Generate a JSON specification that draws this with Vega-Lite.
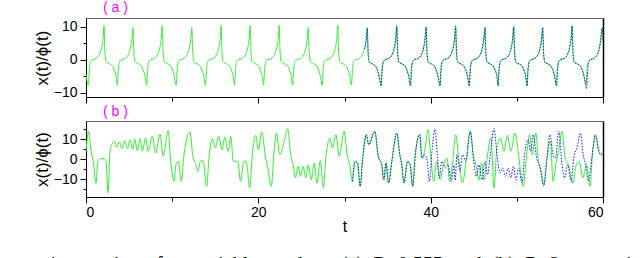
{
"$schema": "https://vega.github.io/schema/vega-lite/v6.json",
"background": "white",
"padding": {"left": 2, "top": 0, "right": 0, "bottom": -10},
"config": {
 "view": {"stroke": "#666", "strokeWidth": 1},
 "axis": {"domainColor": "#000", "domainWidth": 1, "tickColor": "#000", "tickWidth": 1, "labelFont": "Liberation Sans", "labelFontSize": 14, "labelColor": "#000", "titleFont": "Liberation Sans", "titleFontSize": 17, "titleFontWeight": "normal", "titleColor": "#000", "grid": false, "labelPadding": 3, "titlePadding": 2},
 "concat": {"spacing": 0}
},
"title": {"text": "s are time\u00a0\u00a0series\u00a0\u00a0of\u00a0\u00a0\u00a0\u00a0\u00a0\u00a0variable\u00a0\u00a0mode\u00a0\u00a0at (a)\u00a0\u00a0R=0.555\u00a0\u00a0and\u00a0\u00a0(b)\u00a0\u00a0R=2\u00a0\u00a0respectively", "orient": "bottom", "anchor": "start", "frame": "bounds", "dx": -30, "offset": 20, "font": "Liberation Serif", "fontSize": 20, "fontWeight": "normal", "color": "#000"},
"datasets": {
"ag": [{"t":0,"v":-4.5},
{"t":0.28,"v":-7.7},{"t":0.38,"v":-3.5},{"t":0.53,"v":-0.5},{"t":0.73,"v":0},{"t":1.19,"v":0.4},{"t":1.54,"v":1.5},{"t":1.79,"v":3.5},{"t":1.98,"v":6.5},{"t":2.09,"v":10.4},{"t":2.19,"v":2.5},{"t":2.34,"v":-0.6},{"t":2.69,"v":-1.2},{"t":2.99,"v":-1.6},{"t":3.24,"v":-2.8},{"t":3.49,"v":-5},
{"t":3.64,"v":-7.7},{"t":3.74,"v":-3.5},{"t":3.89,"v":-0.5},{"t":4.09,"v":0},{"t":4.55,"v":0.4},{"t":4.9,"v":1.5},{"t":5.15,"v":3.5},{"t":5.34,"v":6.5},{"t":5.45,"v":9.8},{"t":5.55,"v":2.5},{"t":5.7,"v":-0.6},{"t":6.05,"v":-1.2},{"t":6.35,"v":-1.6},{"t":6.6,"v":-2.8},{"t":6.85,"v":-5},
{"t":7.04,"v":-7.7},{"t":7.14,"v":-3.5},{"t":7.29,"v":-0.5},{"t":7.49,"v":0},{"t":7.95,"v":0.4},{"t":8.3,"v":1.5},{"t":8.55,"v":3.5},{"t":8.74,"v":6.5},{"t":8.85,"v":10.4},{"t":8.95,"v":2.5},{"t":9.1,"v":-0.6},{"t":9.45,"v":-1.2},{"t":9.75,"v":-1.6},{"t":10.0,"v":-2.8},{"t":10.25,"v":-5},
{"t":10.47,"v":-7.7},{"t":10.57,"v":-3.5},{"t":10.72,"v":-0.5},{"t":10.92,"v":0},{"t":11.38,"v":0.4},{"t":11.73,"v":1.5},{"t":11.98,"v":3.5},{"t":12.17,"v":6.5},{"t":12.28,"v":9.8},{"t":12.38,"v":2.5},{"t":12.53,"v":-0.6},{"t":12.88,"v":-1.2},{"t":13.18,"v":-1.6},{"t":13.43,"v":-2.8},{"t":13.68,"v":-5},
{"t":13.87,"v":-7.7},{"t":13.97,"v":-3.5},{"t":14.12,"v":-0.5},{"t":14.32,"v":0},{"t":14.78,"v":0.4},{"t":15.13,"v":1.5},{"t":15.38,"v":3.5},{"t":15.57,"v":6.5},{"t":15.68,"v":10.4},{"t":15.78,"v":2.5},{"t":15.93,"v":-0.6},{"t":16.28,"v":-1.2},{"t":16.58,"v":-1.6},{"t":16.83,"v":-2.8},{"t":17.08,"v":-5},
{"t":17.24,"v":-7.7},{"t":17.34,"v":-3.5},{"t":17.49,"v":-0.5},{"t":17.69,"v":0},{"t":18.15,"v":0.4},{"t":18.5,"v":1.5},{"t":18.75,"v":3.5},{"t":18.94,"v":6.5},{"t":19.05,"v":10.4},{"t":19.15,"v":2.5},{"t":19.3,"v":-0.6},{"t":19.65,"v":-1.2},{"t":19.95,"v":-1.6},{"t":20.2,"v":-2.8},{"t":20.45,"v":-5},
{"t":20.61,"v":-7.7},{"t":20.71,"v":-3.5},{"t":20.86,"v":-0.5},{"t":21.06,"v":0},{"t":21.52,"v":0.4},{"t":21.87,"v":1.5},{"t":22.12,"v":3.5},{"t":22.31,"v":6.5},{"t":22.42,"v":10.4},{"t":22.52,"v":2.5},{"t":22.67,"v":-0.6},{"t":23.02,"v":-1.2},{"t":23.32,"v":-1.6},{"t":23.57,"v":-2.8},{"t":23.82,"v":-5},
{"t":23.99,"v":-7.7},{"t":24.09,"v":-3.5},{"t":24.24,"v":-0.5},{"t":24.44,"v":0},{"t":24.9,"v":0.4},{"t":25.25,"v":1.5},{"t":25.5,"v":3.5},{"t":25.69,"v":6.5},{"t":25.8,"v":9.8},{"t":25.9,"v":2.5},{"t":26.05,"v":-0.6},{"t":26.4,"v":-1.2},{"t":26.7,"v":-1.6},{"t":26.95,"v":-2.8},{"t":27.2,"v":-5},
{"t":27.41,"v":-7.7},{"t":27.51,"v":-3.5},{"t":27.66,"v":-0.5},{"t":27.86,"v":0},{"t":28.32,"v":0.4},{"t":28.67,"v":1.5},{"t":28.92,"v":3.5},{"t":29.11,"v":6.5},{"t":29.22,"v":10.4},{"t":29.32,"v":2.5},{"t":29.47,"v":-0.6},{"t":29.82,"v":-1.2},{"t":30.12,"v":-1.6},{"t":30.37,"v":-2.8},{"t":30.62,"v":-5},
{"t":30.81,"v":-7.7},{"t":30.91,"v":-3.5},{"t":31.06,"v":-0.5},{"t":31.26,"v":0},{"t":31.72,"v":0.4},{"t":32.07,"v":1.5},{"t":32.32,"v":3.5},{"t":32.51,"v":6.5},{"t":32.62,"v":9.8},{"t":32.72,"v":2.5},{"t":32.87,"v":-0.6},{"t":33.22,"v":-1.2},{"t":33.52,"v":-1.6},{"t":33.77,"v":-2.8},{"t":34.02,"v":-5},
{"t":34.24,"v":-7.7},{"t":34.34,"v":-3.5},{"t":34.49,"v":-0.5},{"t":34.69,"v":0},{"t":35.15,"v":0.4},{"t":35.5,"v":1.5},{"t":35.75,"v":3.5},{"t":35.94,"v":6.5},{"t":36.05,"v":10.4},{"t":36.15,"v":2.5},{"t":36.3,"v":-0.6},{"t":36.65,"v":-1.2},{"t":36.95,"v":-1.6},{"t":37.2,"v":-2.8},{"t":37.45,"v":-5},
{"t":37.64,"v":-7.7},{"t":37.74,"v":-3.5},{"t":37.89,"v":-0.5},{"t":38.09,"v":0},{"t":38.55,"v":0.4},{"t":38.9,"v":1.5},{"t":39.15,"v":3.5},{"t":39.34,"v":6.5},{"t":39.45,"v":9.8},{"t":39.55,"v":2.5},{"t":39.7,"v":-0.6},{"t":40.05,"v":-1.2},{"t":40.35,"v":-1.6},{"t":40.6,"v":-2.8},{"t":40.85,"v":-5},
{"t":41.07,"v":-7.7},{"t":41.17,"v":-3.5},{"t":41.32,"v":-0.5},{"t":41.52,"v":0},{"t":41.98,"v":0.4},{"t":42.33,"v":1.5},{"t":42.58,"v":3.5},{"t":42.77,"v":6.5},{"t":42.88,"v":10.4},{"t":42.98,"v":2.5},{"t":43.13,"v":-0.6},{"t":43.48,"v":-1.2},{"t":43.78,"v":-1.6},{"t":44.03,"v":-2.8},{"t":44.28,"v":-5},
{"t":44.47,"v":-7.7},{"t":44.57,"v":-3.5},{"t":44.72,"v":-0.5},{"t":44.92,"v":0},{"t":45.38,"v":0.4},{"t":45.73,"v":1.5},{"t":45.98,"v":3.5},{"t":46.17,"v":6.5},{"t":46.28,"v":9.8},{"t":46.38,"v":2.5},{"t":46.53,"v":-0.6},{"t":46.88,"v":-1.2},{"t":47.18,"v":-1.6},{"t":47.43,"v":-2.8},{"t":47.68,"v":-5},
{"t":47.81,"v":-7.7},{"t":47.91,"v":-3.5},{"t":48.06,"v":-0.5},{"t":48.26,"v":0},{"t":48.72,"v":0.4},{"t":49.07,"v":1.5},{"t":49.32,"v":3.5},{"t":49.51,"v":6.5},{"t":49.62,"v":10.2},{"t":49.72,"v":2.5},{"t":49.87,"v":-0.6},{"t":50.22,"v":-1.2},{"t":50.52,"v":-1.6},{"t":50.77,"v":-2.8},{"t":51.02,"v":-5},
{"t":51.17,"v":-7.7},{"t":51.27,"v":-3.5},{"t":51.42,"v":-0.5},{"t":51.62,"v":0},{"t":52.08,"v":0.4},{"t":52.43,"v":1.5},{"t":52.68,"v":3.5},{"t":52.87,"v":6.5},{"t":52.98,"v":9.8},{"t":53.08,"v":2.5},{"t":53.23,"v":-0.6},{"t":53.58,"v":-1.2},{"t":53.88,"v":-1.6},{"t":54.13,"v":-2.8},{"t":54.38,"v":-5},
{"t":54.59,"v":-7.7},{"t":54.69,"v":-3.5},{"t":54.84,"v":-0.5},{"t":55.04,"v":0},{"t":55.5,"v":0.4},{"t":55.85,"v":1.5},{"t":56.1,"v":3.5},{"t":56.29,"v":6.5},{"t":56.4,"v":10.4},{"t":56.5,"v":2.5},{"t":56.65,"v":-0.6},{"t":57.0,"v":-1.2},{"t":57.3,"v":-1.6},{"t":57.55,"v":-2.8},{"t":57.8,"v":-5},
{"t":58.04,"v":-7.7},{"t":58.14,"v":-3.5},{"t":58.29,"v":-0.5},{"t":58.49,"v":0},{"t":58.95,"v":0.4},{"t":59.3,"v":1.5},{"t":59.55,"v":3.5},{"t":59.74,"v":6.5},{"t":59.85,"v":9.5},{"t":60,"v":5}],
"ab": [{"t":32.35,"v":3.3},{"t":32.54,"v":6.3},{"t":32.65,"v":9.6},{"t":32.75,"v":2.3},{"t":32.9,"v":-0.8},{"t":33.25,"v":-1.3},{"t":33.55,"v":-1.8},{"t":33.8,"v":-3},{"t":34.05,"v":-5.3},
{"t":34.27,"v":-8},{"t":34.37,"v":-3.3},{"t":34.52,"v":-0.6},{"t":34.72,"v":0},{"t":35.18,"v":0.5},{"t":35.53,"v":1.6},{"t":35.78,"v":3.6},{"t":35.97,"v":6.8},{"t":36.08,"v":10.2},{"t":36.18,"v":2.3},{"t":36.33,"v":-0.8},{"t":36.68,"v":-1.3},{"t":36.98,"v":-1.8},{"t":37.23,"v":-3},{"t":37.48,"v":-5.3},
{"t":37.67,"v":-8},{"t":37.77,"v":-3.3},{"t":37.92,"v":-0.6},{"t":38.12,"v":0},{"t":38.58,"v":0.5},{"t":38.93,"v":1.6},{"t":39.18,"v":3.6},{"t":39.37,"v":6.8},{"t":39.48,"v":10},{"t":39.58,"v":2.3},{"t":39.73,"v":-0.8},{"t":40.08,"v":-1.3},{"t":40.38,"v":-1.8},{"t":40.63,"v":-3},{"t":40.88,"v":-5.3},
{"t":41.1,"v":-8},{"t":41.2,"v":-3.3},{"t":41.35,"v":-0.6},{"t":41.55,"v":0},{"t":42.01,"v":0.5},{"t":42.36,"v":1.6},{"t":42.61,"v":3.6},{"t":42.8,"v":6.8},{"t":42.91,"v":10.2},{"t":43.01,"v":2.3},{"t":43.16,"v":-0.8},{"t":43.51,"v":-1.3},{"t":43.81,"v":-1.8},{"t":44.06,"v":-3},{"t":44.31,"v":-5.3},
{"t":44.5,"v":-8},{"t":44.6,"v":-3.3},{"t":44.75,"v":-0.6},{"t":44.95,"v":0},{"t":45.41,"v":0.5},{"t":45.76,"v":1.6},{"t":46.01,"v":3.6},{"t":46.2,"v":6.8},{"t":46.31,"v":9.8},{"t":46.41,"v":2.3},{"t":46.56,"v":-0.8},{"t":46.91,"v":-1.3},{"t":47.21,"v":-1.8},{"t":47.46,"v":-3},{"t":47.71,"v":-5.3},
{"t":47.84,"v":-8},{"t":47.94,"v":-3.3},{"t":48.09,"v":-0.6},{"t":48.29,"v":0},{"t":48.75,"v":0.5},{"t":49.1,"v":1.6},{"t":49.35,"v":3.6},{"t":49.54,"v":6.8},{"t":49.65,"v":10},{"t":49.75,"v":2.3},{"t":49.9,"v":-0.8},{"t":50.25,"v":-1.3},{"t":50.55,"v":-1.8},{"t":50.8,"v":-3},{"t":51.05,"v":-5.3},
{"t":51.2,"v":-8},{"t":51.3,"v":-3.3},{"t":51.45,"v":-0.6},{"t":51.65,"v":0},{"t":52.11,"v":0.5},{"t":52.46,"v":1.6},{"t":52.71,"v":3.6},{"t":52.9,"v":6.8},{"t":53.01,"v":9.8},{"t":53.11,"v":2.3},{"t":53.26,"v":-0.8},{"t":53.61,"v":-1.3},{"t":53.91,"v":-1.8},{"t":54.16,"v":-3},{"t":54.41,"v":-5.3},
{"t":54.62,"v":-8},{"t":54.72,"v":-3.3},{"t":54.87,"v":-0.6},{"t":55.07,"v":0},{"t":55.53,"v":0.5},{"t":55.88,"v":1.6},{"t":56.13,"v":3.6},{"t":56.32,"v":6.8},{"t":56.43,"v":10.2},{"t":56.53,"v":2.3},{"t":56.68,"v":-0.8},{"t":57.03,"v":-1.3},{"t":57.33,"v":-1.8},{"t":57.58,"v":-3},{"t":57.83,"v":-5.3},
{"t":58.1,"v":-8.8},{"t":58.2,"v":-4},{"t":58.35,"v":-0.8},{"t":58.55,"v":0},{"t":59.0,"v":0.5},{"t":59.35,"v":1.6},{"t":59.6,"v":3.6},{"t":59.78,"v":6.8},{"t":59.9,"v":9.8},{"t":60,"v":6}],
"bg": [{"t":0,"v":4},{"t":0.31,"v":14},{"t":0.54,"v":5.6},{"t":0.85,"v":-1},{"t":1.16,"v":-11.9},{"t":1.39,"v":-1},{"t":1.7,"v":0.3},{"t":2.09,"v":0.3},{"t":2.32,"v":-1},{"t":2.55,"v":-16.8},{"t":2.79,"v":4},{"t":3.1,"v":8.2},{"t":3.33,"v":9},{"t":3.56,"v":6},{"t":3.87,"v":8.6},{"t":4.14,"v":5.3},{"t":4.49,"v":9.3},{"t":4.8,"v":5.3},{"t":5.1,"v":9.6},{"t":5.42,"v":4.8},{"t":5.65,"v":10},{"t":5.96,"v":4.3},{"t":6.27,"v":10.3},{"t":6.54,"v":4},{"t":6.92,"v":10.6},{"t":7.2,"v":4},{"t":7.7,"v":11.5},{"t":8.08,"v":3.1},{"t":8.59,"v":12.6},{"t":8.97,"v":1.5},{"t":9.52,"v":14.3},{"t":9.83,"v":-1},{"t":10.21,"v":-11},{"t":10.44,"v":-2.7},{"t":10.72,"v":-1},{"t":11.06,"v":-11},{"t":11.37,"v":2.3},{"t":12.07,"v":13.6},{"t":12.38,"v":2.3},{"t":12.73,"v":-2.7},{"t":13.0,"v":-6},{"t":13.3,"v":-0.7},{"t":13.6,"v":-0.7},{"t":14.0,"v":-13.5},{"t":14.3,"v":2.3},{"t":14.7,"v":10.3},{"t":15.0,"v":5.6},{"t":15.4,"v":11.5},{"t":15.8,"v":4.8},{"t":16.1,"v":11},{"t":16.5,"v":4},{"t":16.8,"v":11.5},{"t":17.1,"v":-1},{"t":17.6,"v":-1},{"t":17.95,"v":-11},{"t":18.3,"v":-1},{"t":18.6,"v":-1},{"t":19.0,"v":-14.3},{"t":19.3,"v":2.3},{"t":19.7,"v":12},{"t":20.0,"v":4.8},{"t":20.4,"v":13.6},{"t":20.85,"v":0.6},{"t":21.1,"v":-4.3},{"t":21.5,"v":-13.5},{"t":21.8,"v":2.3},{"t":22.1,"v":13.1},{"t":22.5,"v":2.3},{"t":23.0,"v":9},{"t":23.4,"v":15.3},{"t":23.75,"v":2.3},{"t":24.1,"v":-4.3},{"t":24.3,"v":-9.3},{"t":24.6,"v":-3.5},{"t":24.9,"v":-8.5},{"t":25.2,"v":-3.5},{"t":25.5,"v":-9.3},{"t":25.8,"v":-2.7},{"t":26.15,"v":-10.2},{"t":26.5,"v":-1.8},{"t":26.8,"v":-11.8},{"t":27.2,"v":-0.7},{"t":27.55,"v":-14.3},{"t":27.85,"v":1.5},{"t":28.3,"v":10.6},{"t":28.6,"v":5.6},{"t":29.0,"v":12.3},{"t":29.4,"v":1.5},{"t":29.95,"v":14},{"t":30.3,"v":2.3},{"t":30.6,"v":-2.7},{"t":30.9,"v":-11},{"t":31.2,"v":-1},{"t":31.5,"v":-1.8},{"t":31.8,"v":-13.5},{"t":32.1,"v":0.6},{"t":32.5,"v":12.3},{"t":32.8,"v":7.3},{"t":33.5,"v":14},{"t":33.9,"v":1.5},{"t":34.3,"v":-2.7},{"t":34.55,"v":-10.2},{"t":34.8,"v":-1.8},{"t":35.1,"v":-11.8},{"t":35.5,"v":-0.2},{"t":36.05,"v":13.1},{"t":36.4,"v":2.3},{"t":36.6,"v":-1.8},{"t":36.9,"v":-11.8},{"t":37.3,"v":-1},{"t":37.6,"v":-2.7},{"t":37.9,"v":-13.5},{"t":38.2,"v":2.3},{"t":38.7,"v":12.3},{"t":39.0,"v":0.6},{"t":39.3,"v":4},{"t":39.7,"v":14.8},{"t":40.0,"v":2.3},{"t":40.35,"v":-11},{"t":40.7,"v":-1},{"t":41.1,"v":-10.2},{"t":41.5,"v":-2.7},{"t":41.9,"v":0.6},{"t":42.2,"v":-11},{"t":42.55,"v":-1.8},{"t":42.9,"v":12.3},{"t":43.3,"v":-1},{"t":43.7,"v":-11.8},{"t":44.1,"v":-1},{"t":44.6,"v":14},{"t":45.0,"v":0.6},{"t":45.25,"v":-2.7},{"t":45.6,"v":-10.2},{"t":45.9,"v":-1.8},{"t":46.2,"v":-10.2},{"t":46.5,"v":-1},{"t":47.0,"v":10.6},{"t":47.35,"v":-14.3},{"t":47.7,"v":6.5},{"t":48.1,"v":10.6},{"t":48.5,"v":4},{"t":48.9,"v":12},{"t":49.3,"v":4},{"t":49.8,"v":13.1},{"t":50.2,"v":2.3},{"t":50.5,"v":-8.5},{"t":50.75,"v":-13.5},{"t":51.1,"v":0.6},{"t":51.5,"v":12.3},{"t":51.8,"v":2.3},{"t":52.2,"v":13.1},{"t":52.5,"v":-1},{"t":52.85,"v":-6.8},{"t":53.15,"v":-12.7},{"t":53.5,"v":0.6},{"t":53.9,"v":9},{"t":54.2,"v":-11},{"t":54.55,"v":-1.8},{"t":54.85,"v":4},{"t":55.25,"v":14},{"t":55.6,"v":0.6},{"t":56.0,"v":-2.7},{"t":56.5,"v":-11.8},{"t":56.9,"v":-2.7},{"t":57.25,"v":-1},{"t":57.65,"v":-9.3},{"t":58.1,"v":-2.7},{"t":58.5,"v":-13.5},{"t":58.8,"v":4},{"t":59.2,"v":11.5},{"t":59.5,"v":4.8},{"t":59.8,"v":2.3},{"t":60,"v":3}],
"bb": [{"t":30.93,"v":-11},{"t":31.23,"v":-1},{"t":31.53,"v":-1.8},{"t":31.83,"v":-13.5},{"t":32.13,"v":0.6},{"t":32.53,"v":12.3},{"t":32.83,"v":7.3},{"t":33.53,"v":14},{"t":33.93,"v":1.5},{"t":34.33,"v":-2.7},{"t":34.58,"v":-10.2},{"t":34.83,"v":-1.8},{"t":35.13,"v":-11.8},{"t":35.53,"v":-0.2},{"t":36.08,"v":13.1},{"t":36.43,"v":2.3},{"t":36.63,"v":-1.8},{"t":36.93,"v":-11.8},{"t":37.33,"v":-1},{"t":37.63,"v":-2.7},{"t":37.93,"v":-13.5},{"t":38.23,"v":2.3},{"t":38.73,"v":12.3},{"t":39.0,"v":0.6},{"t":39.3,"v":2.3},{"t":39.6,"v":-1},{"t":39.85,"v":-11},{"t":40.15,"v":4},{"t":40.5,"v":14.8},{"t":40.8,"v":0.6},{"t":41.0,"v":-9.3},{"t":41.3,"v":-1},{"t":41.7,"v":-4.3},{"t":42.0,"v":-2.7},{"t":42.4,"v":-11},{"t":42.7,"v":-3},{"t":42.85,"v":-10.5},{"t":43.05,"v":2.3},{"t":43.4,"v":-6},{"t":43.7,"v":2.3},{"t":44.1,"v":-1},{"t":44.6,"v":14},{"t":44.95,"v":0.6},{"t":45.3,"v":-8.5},{"t":45.6,"v":-2.7},{"t":45.95,"v":-10.2},{"t":46.3,"v":-1},{"t":46.6,"v":-7.7},{"t":46.9,"v":1.5},{"t":47.35,"v":15.3},{"t":47.7,"v":2.3},{"t":48.05,"v":-6.8},{"t":48.35,"v":-4.3},{"t":48.7,"v":-8.5},{"t":49.0,"v":-4.3},{"t":49.3,"v":-9.3},{"t":49.6,"v":-3.5},{"t":49.9,"v":-10.2},{"t":50.2,"v":-4.3},{"t":50.6,"v":-11.8},{"t":50.9,"v":2.3},{"t":51.3,"v":9.8},{"t":51.6,"v":4},{"t":51.9,"v":12.3},{"t":52.3,"v":0.6},{"t":52.7,"v":-3.5},{"t":53.1,"v":-13.5},{"t":53.5,"v":0.6},{"t":53.85,"v":12.3},{"t":54.2,"v":2.3},{"t":54.5,"v":0.6},{"t":54.85,"v":14},{"t":55.25,"v":-2.7},{"t":55.55,"v":-9.3},{"t":55.9,"v":-2.7},{"t":56.3,"v":-11},{"t":56.6,"v":0.6},{"t":57.0,"v":6},{"t":57.4,"v":13.1},{"t":57.7,"v":2.3},{"t":58.0,"v":-2.7},{"t":58.3,"v":-11},{"t":58.7,"v":0.6},{"t":59.1,"v":12.3},{"t":59.5,"v":4},{"t":59.8,"v":2.3},{"t":60,"v":3}]
},
"vconcat": [
 {
  "width": 517, "height": 79,
  "title": {"text": "( a )", "anchor": "start", "frame": "group", "dx": 17, "offset": 3, "color": "#ff00ff", "font": "Liberation Sans", "fontSize": 14, "fontWeight": "normal"},
  "layer": [
   {"data": {"name": "ag"}, "mark": {"type": "line", "color": "#33ee33", "strokeWidth": 1, "interpolate": "monotone", "clip": true},
    "encoding": {
     "x": {"field": "t", "type": "quantitative", "scale": {"domain": [0, 60], "nice": false, "zero": false}, "axis": {"values": [0,10,20,30,40,50,60], "labels": false, "title": null, "tickSize": {"condition": {"test": "datum.value % 20 === 0", "value": 6}, "value": 4}}},
     "y": {"field": "v", "type": "quantitative", "scale": {"domain": [-11.3, 12.7], "nice": false, "zero": false}, "axis": {"values": [-10,-5,0,5,10], "labelExpr": "datum.value % 10 === 0 ? datum.label : ''", "tickSize": {"condition": {"test": "datum.value % 10 === 0", "value": 6}, "value": 3}, "title": "x(t)/ϕ(t)"}}
    }},
   {"data": {"name": "ab"}, "mark": {"type": "line", "color": "#1a1aff", "strokeWidth": 1, "strokeDash": [1.5, 1.5], "interpolate": "monotone", "clip": true},
    "encoding": {
     "x": {"field": "t", "type": "quantitative", "scale": {"domain": [0, 60], "nice": false, "zero": false}, "axis": null},
     "y": {"field": "v", "type": "quantitative", "scale": {"domain": [-11.3, 12.7], "nice": false, "zero": false}, "axis": {"orient": "right", "ticks": false, "labels": false, "title": null, "domainColor": "#000", "domainWidth": 1.5}}
    }}
  ],
  "resolve": {"scale": {"x": "independent", "y": "independent"}}
 },
 {
  "width": 517, "height": 76,
  "title": {"text": "( b )", "anchor": "start", "frame": "group", "dx": 17, "offset": 2, "color": "#ff00ff", "font": "Liberation Sans", "fontSize": 14, "fontWeight": "normal"},
  "layer": [
   {"data": {"name": "bg"}, "mark": {"type": "line", "color": "#33ee33", "strokeWidth": 1, "interpolate": "monotone", "clip": true},
    "encoding": {
     "x": {"field": "t", "type": "quantitative", "scale": {"domain": [0, 60], "nice": false, "zero": false}, "axis": {"values": [0,10,20,30,40,50,60], "labelExpr": "datum.value % 20 === 0 ? datum.label : ''", "title": "t", "titleFontSize": 16, "titlePadding": -1, "labelPadding": 2, "tickSize": {"condition": {"test": "datum.value % 20 === 0", "value": 6}, "value": 4}}},
     "y": {"field": "v", "type": "quantitative", "scale": {"domain": [-18.8, 19.1], "nice": false, "zero": false}, "axis": {"values": [-15,-10,-5,0,5,10,15], "labelExpr": "datum.value % 10 === 0 ? datum.label : ''", "tickSize": {"condition": {"test": "datum.value % 10 === 0", "value": 6}, "value": 3}, "title": "x(t)/ϕ(t)"}}
    }},
   {"data": {"name": "bb"}, "mark": {"type": "line", "color": "#1a1aff", "strokeWidth": 1, "strokeDash": [1.5, 1.5], "interpolate": "monotone", "clip": true},
    "encoding": {
     "x": {"field": "t", "type": "quantitative", "scale": {"domain": [0, 60], "nice": false, "zero": false}, "axis": null},
     "y": {"field": "v", "type": "quantitative", "scale": {"domain": [-18.8, 19.1], "nice": false, "zero": false}, "axis": {"orient": "right", "ticks": false, "labels": false, "title": null, "domainColor": "#000", "domainWidth": 1.5}}
    }}
  ],
  "resolve": {"scale": {"x": "independent", "y": "independent"}}
 }
]
}
